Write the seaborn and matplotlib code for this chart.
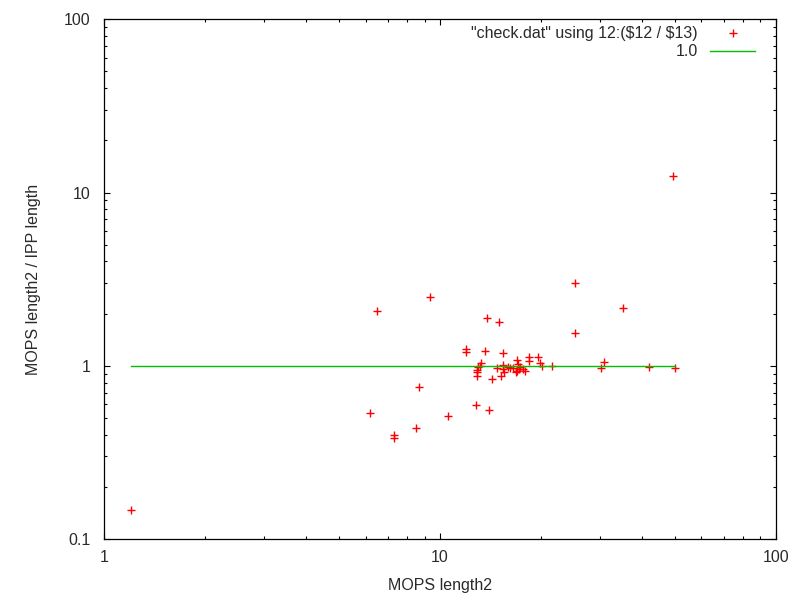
import numpy as np
import pandas as pd
import seaborn as sns
import matplotlib
matplotlib.use("Agg")
import matplotlib.pyplot as plt
from matplotlib.ticker import LogLocator, FixedLocator, FixedFormatter

# MOPS length2 vs ratio
mops_len = [1.20, 6.20, 6.51, 7.31, 7.31, 8.50, 8.68, 9.34, 10.59, 11.98,
            11.98, 12.83, 12.93, 12.87, 12.87, 13.01, 13.25, 13.62, 13.83, 13.97,
            14.32, 14.82, 15.02, 15.17, 15.44, 15.44, 15.44, 15.54, 16.16, 16.54,
            16.93, 17.11, 17.31, 17.23, 16.93, 16.84, 17.71, 17.92, 18.45, 18.45,
            19.63, 19.86, 20.09, 21.6, 25.24, 25.24, 30.18, 30.8, 35.16, 42.03,
            49.55, 50.1, 13.17, 15.93]
ratio = [0.147, 0.532, 2.06, 0.399, 0.381, 0.436, 0.751, 2.50, 0.511, 1.25,
         1.20, 0.592, 0.873, 0.925, 0.946, 0.988, 1.034, 1.22, 1.88, 0.556,
         0.836, 0.975, 1.78, 0.873, 1.18, 1.011, 0.954, 0.925, 0.975, 0.975,
         1.080, 1.024, 0.988, 0.962, 0.937, 0.917, 0.954, 0.937, 1.120, 1.070,
         1.128, 1.042, 1.0, 0.997, 2.99, 1.54, 0.967, 1.052, 2.15, 0.984,
         12.47, 0.967, 1.0, 0.99]

data_label = '"check.dat" using 12:(\\$12 / \\$13)'
line_label = '1.0'

df = pd.DataFrame({'x': mops_len, 'y': ratio})
# constant 1.0 over the data range
line_df = pd.DataFrame({'x': [min(mops_len), max(mops_len)], 'y': [1.0, 1.0]})

plt.rcParams['font.family'] = ['Liberation Sans', 'DejaVu Sans']
fs = 11.5

fig = plt.figure(figsize=(8, 6), dpi=100)
ax = fig.add_axes([0.1304, 0.1017, 0.8392, 0.8661])

sns.scatterplot(data=df, x='x', y='y', marker='+', color='#ff0000', s=30,
                linewidth=1.0, ax=ax, label=data_label, zorder=2)
sns.lineplot(data=line_df, x='x', y='y', color='#00c000', linewidth=1.0,
             ax=ax, label=line_label, zorder=3)

ax.set_xscale('log')
ax.set_yscale('log')
ax.set_xlim(1, 100)
ax.set_ylim(0.1, 100)

ax.xaxis.set_major_locator(FixedLocator([1, 10, 100]))
ax.xaxis.set_major_formatter(FixedFormatter(['1', '10', '100']))
ax.yaxis.set_major_locator(FixedLocator([0.1, 1, 10, 100]))
ax.yaxis.set_major_formatter(FixedFormatter(['0.1', '1', '10', '100']))
ax.xaxis.set_minor_locator(LogLocator(base=10, subs=np.arange(2, 10)))
ax.yaxis.set_minor_locator(LogLocator(base=10, subs=np.arange(2, 10)))
ax.xaxis.set_minor_formatter(plt.NullFormatter())
ax.yaxis.set_minor_formatter(plt.NullFormatter())

ax.tick_params(which='both', direction='in', top=True, right=True,
               color='black', labelsize=fs, labelcolor='#2a2a2a')
ax.tick_params(which='major', length=4.5, width=0.8)
ax.tick_params(which='minor', length=2.3, width=0.8)
ax.tick_params(axis='x', pad=8)
ax.tick_params(axis='y', pad=10)
for sp in ax.spines.values():
    sp.set_linewidth(0.9)
    sp.set_color('black')

ax.set_xlabel('MOPS length2', fontsize=fs, color='#2a2a2a')
ax.set_ylabel('MOPS length2 / IPP length', fontsize=fs, color='#2a2a2a')
ax.xaxis.set_label_coords(0.5, -0.075)
ax.yaxis.set_label_coords(-0.094, 0.5)

leg = ax.legend(loc='upper right', bbox_to_anchor=(0.9692, 0.988),
                markerfirst=False, frameon=False, fontsize=fs,
                handlelength=2.8, handletextpad=0.8, labelspacing=0.24,
                borderpad=0, borderaxespad=0)
for t in leg.get_texts():
    t.set_color('#2a2a2a')

fig.savefig('out.png', dpi=100)
